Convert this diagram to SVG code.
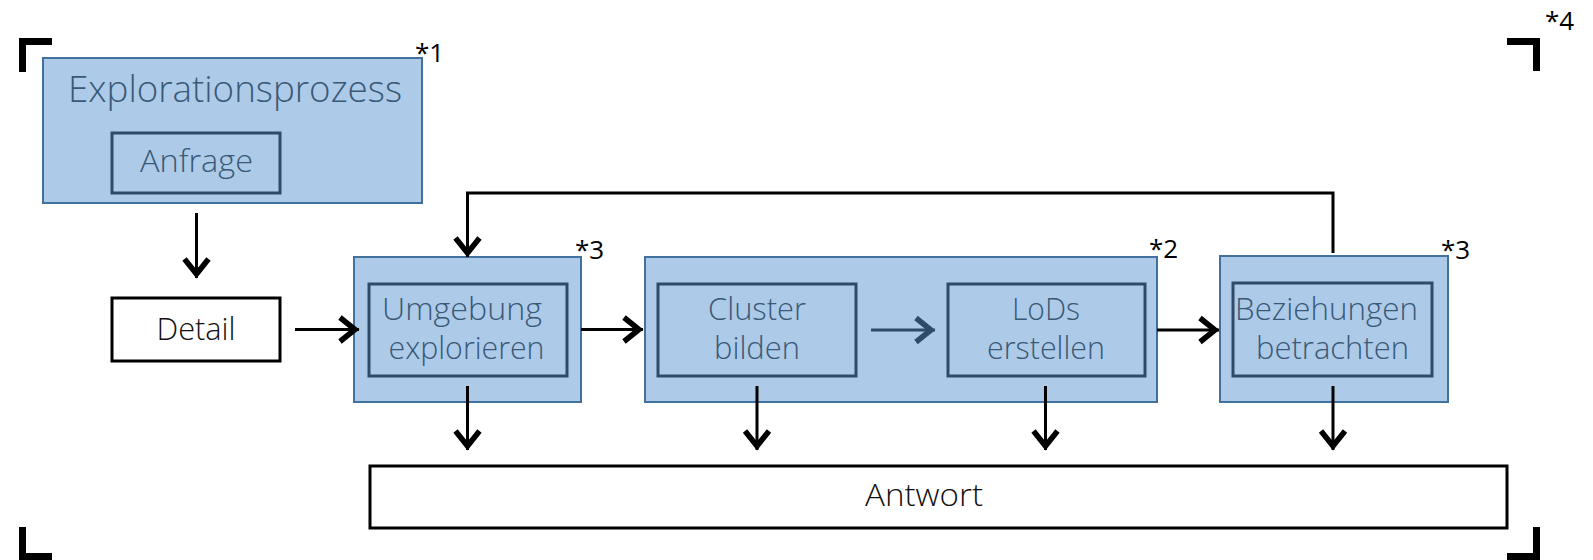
<svg xmlns="http://www.w3.org/2000/svg" width="1593" height="560" viewBox="0 0 1593 560">
  <style>
    .outer { fill: #adcbe8; stroke: #41719c; stroke-width: 2; }
    .inner { fill: none; stroke: #2f4b69; stroke-width: 3; }
    .plain { fill: #ffffff; stroke: #000000; stroke-width: 3; }
    .lbl { font-family: "Open Sans", "Liberation Sans", sans-serif; font-weight: 300; font-size: 31px; fill: #3a5877; text-anchor: middle; }
    .lbl-dark { fill: #111111; }
    .title { font-size: 36px; }
    .note { font-family: "Open Sans", "Liberation Sans", sans-serif; font-weight: 400; font-size: 26px; fill: #000000; }
    .conn { fill: none; stroke: #000000; stroke-width: 3; }
    .conn-in { fill: none; stroke: #2f4b69; stroke-width: 3; }
    .bracket { fill: #000000; }
  </style>
  <defs>
    <marker id="arrow" markerUnits="userSpaceOnUse" viewBox="-22 -17 24 34" markerWidth="24" markerHeight="34" refX="0" refY="0" orient="auto">
      <path d="M-19,-12 L-4,0 L-19,12" fill="none" stroke="#000000" stroke-width="5.5"/>
    </marker>
    <marker id="arrow-in" markerUnits="userSpaceOnUse" viewBox="-22 -17 24 34" markerWidth="24" markerHeight="34" refX="0" refY="0" orient="auto">
      <path d="M-19,-12 L-4,0 L-19,12" fill="none" stroke="#2f4b69" stroke-width="5.5"/>
    </marker>
  </defs>

  <!-- corner brackets framing the figure -->
  <g id="frame">
    <path class="bracket" d="M19,38 H52 V45 H26 V72 H19 Z"/>
    <path class="bracket" d="M1540,38 H1507 V45 H1533 V71 H1540 Z"/>
    <path class="bracket" d="M19,527 H26 V553 H52 V560 H19 Z"/>
    <path class="bracket" d="M1540,527 H1533 V553 H1507 V560 H1540 Z"/>
    <text class="note" x="1545" y="30">*4</text>
  </g>

  <!-- exploration process with its request -->
  <g id="explorationsprozess">
    <rect class="outer" x="43" y="58" width="379" height="145"/>
    <text class="lbl title" x="235" y="102" textLength="334" lengthAdjust="spacingAndGlyphs">Explorationsprozess</text>
    <text class="note" x="415" y="62">*1</text>
  </g>
  <g id="anfrage">
    <rect class="inner" x="112" y="133" width="168" height="60"/>
    <text class="lbl" x="196.5" y="172" textLength="113" lengthAdjust="spacingAndGlyphs">Anfrage</text>
  </g>

  <g id="detail">
    <rect class="plain" x="112" y="298" width="168" height="63"/>
    <text class="lbl lbl-dark" x="196" y="340" textLength="79" lengthAdjust="spacingAndGlyphs">Detail</text>
  </g>

  <g id="umgebung">
    <rect class="outer" x="354" y="257" width="227" height="145"/>
    <rect class="inner" x="369" y="284" width="198" height="92"/>
    <text class="lbl" x="462" y="320" textLength="160" lengthAdjust="spacingAndGlyphs">Umgebung</text>
    <text class="lbl" x="466.5" y="359" textLength="156" lengthAdjust="spacingAndGlyphs">explorieren</text>
    <text class="note" x="575" y="259">*3</text>
  </g>

  <g id="cluster-lods">
    <rect class="outer" x="645" y="257" width="512" height="145"/>
    <text class="note" x="1149" y="258">*2</text>
  </g>
  <g id="cluster">
    <rect class="inner" x="658" y="284" width="198" height="92"/>
    <text class="lbl" x="757" y="320" textLength="98" lengthAdjust="spacingAndGlyphs">Cluster</text>
    <text class="lbl" x="757" y="359" textLength="86" lengthAdjust="spacingAndGlyphs">bilden</text>
  </g>
  <g id="lods">
    <rect class="inner" x="948" y="284" width="197" height="92"/>
    <text class="lbl" x="1046" y="320" textLength="68" lengthAdjust="spacingAndGlyphs">LoDs</text>
    <text class="lbl" x="1046" y="359" textLength="118" lengthAdjust="spacingAndGlyphs">erstellen</text>
  </g>

  <g id="beziehungen">
    <rect class="outer" x="1220" y="256" width="228" height="146"/>
    <rect class="inner" x="1233" y="283" width="199" height="93"/>
    <text class="lbl" x="1326.5" y="320" textLength="183" lengthAdjust="spacingAndGlyphs">Beziehungen</text>
    <text class="lbl" x="1332.5" y="359" textLength="153" lengthAdjust="spacingAndGlyphs">betrachten</text>
    <text class="note" x="1441" y="259">*3</text>
  </g>

  <g id="antwort">
    <rect class="plain" x="370" y="466" width="1137" height="62"/>
    <text class="lbl lbl-dark" x="924" y="506" textLength="118" lengthAdjust="spacingAndGlyphs">Antwort</text>
  </g>

  <!-- connectors -->
  <g id="connectors">
    <path class="conn" d="M196.5,213 V278" marker-end="url(#arrow)"/>
    <path class="conn" d="M295,329.5 H359" marker-end="url(#arrow)"/>
    <path class="conn" d="M581,329.5 H643" marker-end="url(#arrow)"/>
    <path class="conn-in" d="M871,330 H935" marker-end="url(#arrow-in)"/>
    <path class="conn" d="M1157,330 H1219" marker-end="url(#arrow)"/>
    <path class="conn" d="M1333,253 V193 H467.5 V257" marker-end="url(#arrow)"/>
    <path class="conn" d="M467.5,386 V450" marker-end="url(#arrow)"/>
    <path class="conn" d="M757,386 V450" marker-end="url(#arrow)"/>
    <path class="conn" d="M1045.5,386 V450" marker-end="url(#arrow)"/>
    <path class="conn" d="M1333,386 V450" marker-end="url(#arrow)"/>
  </g>
</svg>
